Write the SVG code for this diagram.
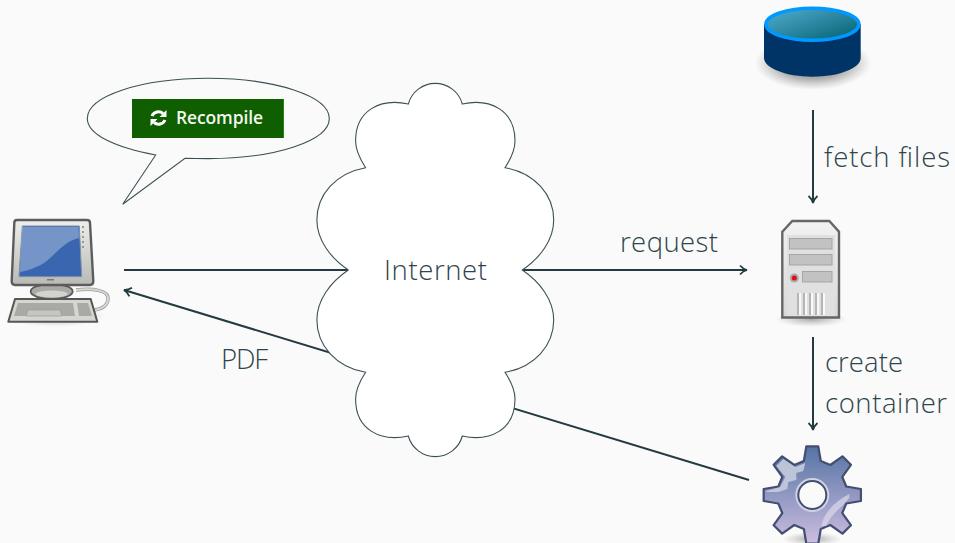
<svg xmlns="http://www.w3.org/2000/svg" width="955" height="543" viewBox="0 0 955 543">
<style>
.t{font-family:"Open Sans","Liberation Sans",sans-serif;font-weight:300;font-size:27.500px;fill:#2f444b}
.c{fill:none;stroke:#233b40;stroke-width:2}
.o{fill:#fff;stroke:#3d5055;stroke-width:1.100}
</style>
<defs>
<marker id="a" markerUnits="userSpaceOnUse" markerWidth="14" markerHeight="14" refX="10" refY="7" orient="auto"><path d="M3,2.500Q6,6 10,7Q6,8 3,11.500" fill="none" stroke="#233b40" stroke-width="1.800"/></marker>
<radialGradient id="sh"><stop offset="0" stop-color="#333" stop-opacity=".75"/><stop offset=".6" stop-color="#555" stop-opacity=".45"/><stop offset="1" stop-color="#777" stop-opacity="0"/></radialGradient>
<radialGradient id="sl"><stop offset="0" stop-color="#555" stop-opacity=".5"/><stop offset="1" stop-color="#888" stop-opacity="0"/></radialGradient>
<linearGradient id="db" x1="0" y1="0" x2="1" y2="1"><stop offset="0" stop-color="#55aed2"/><stop offset="1" stop-color="#006070"/></linearGradient>
<linearGradient id="gr" x1="0" y1="0" x2="0" y2="1"><stop offset="0" stop-color="#5573a4"/><stop offset="1" stop-color="#cdbde0"/></linearGradient>
<linearGradient id="sv" x1="0" y1="0" x2="0" y2="1"><stop offset="0" stop-color="#f2f2f2"/><stop offset="1" stop-color="#d8d8d8"/></linearGradient>
<linearGradient id="mn" x1="0" y1="0" x2="0" y2="1"><stop offset="0" stop-color="#eeeeea"/><stop offset="1" stop-color="#b9bab4"/></linearGradient>
</defs>
<rect width="955" height="543" fill="#fafafa"/>
<g id="connectors">
<path class="c" d="M124,270H348"/>
<path class="c" d="M522,270H747" marker-end="url(#a)"/>
<path class="c" d="M749,480L124,290" marker-end="url(#a)"/>
<path class="c" d="M813,110V203" marker-end="url(#a)"/>
<path class="c" d="M813,337V430" marker-end="url(#a)"/>
</g>
<g id="speech">
<path class="o" style="fill:none" d="M155.700,155C113,147 87.300,134 87.300,118.500C87.300,96 141,78.300 208.300,78.300C275,78.300 329.300,96 329.300,118.500C329.300,141 275,158.600 208.300,158.600C200,158.600 192,158.500 185,158.300L122.700,204.300Z"/>
</g>
<g id="recompile">
<rect x="132" y="99" width="152" height="39" fill="#0f5f00"/>
<rect x="283" y="99" width="1" height="39" fill="#1f8a0a"/>
<path d="M152,116A7,7 0 0 1 163,113.500M165,120A7,7 0 0 1 154,122.500" fill="none" stroke="#fff" stroke-width="3"/>
<path d="M166.500,110V117H159.500ZM150.500,126V119H157.500Z" fill="#fff"/>
<text x="176" y="124" textLength="87" style="font-family:'Open Sans','Liberation Sans',sans-serif;font-weight:600;font-size:17.500px;fill:#f2f7ee">Recompile</text>
</g>
<g id="cloud">
<path class="o" d="M408.300,104A28,28 0 0 1 462.300,104C490,98 515,110 515,141C515,150 510,160 505,167.700C535,173 553.700,195 553.700,220C553.700,240 540,258 522.300,270C540,282 553.700,300 553.700,320C553.700,345 535,367 505,372.300C510,380 515,390 515,399C515,430 490,442 462.300,436A28,28 0 0 1 408.300,436C380.600,442 355.600,430 355.600,399C355.600,390 360.600,380 365.600,372.300C335.600,367 316.900,345 316.900,320C316.900,300 330.600,282 348.300,270C330.600,258 316.900,240 316.900,220C316.900,195 335.600,173 365.600,167.700C360.600,160 355.600,150 355.600,141C355.600,110 380.600,98 408.300,104Z"/>
<text class="t" x="384" y="280" textLength="103">Internet</text>
</g>
<g id="computer">
<ellipse cx="55" cy="316" rx="50" ry="11" fill="url(#sl)"/>
<path d="M76,290C95,288 108,291 108,298C108,306 102,309 94,310" fill="none" stroke="#999" stroke-width="3.500"/>
<path d="M76,290C95,288 108,291 108,298C108,306 102,309 94,310" fill="none" stroke="#d8d8d4" stroke-width="2"/>
<ellipse cx="51.700" cy="291.500" rx="21" ry="7.500" fill="#a9aaa4" stroke="#5a5a5a" stroke-width="1.800"/>
<ellipse cx="51.700" cy="294" rx="16" ry="3.500" fill="#d2d3cd"/>
<path d="M17,220H87Q90,220 90,223L93.300,281Q93.300,285 90,285H15Q11.700,285 11.700,281L14.300,223Q14.300,220 17,220Z" fill="url(#mn)" stroke="#5c5c5c" stroke-width="2.400"/>
<path d="M22.300,226H79.300L81.700,276.700H19Z" fill="#3a66b0" stroke="#7f8fa8"/>
<path d="M22.300,227H78.500L79,238C60,242 52,262 36,267C30,270 25,271 20,272Z" fill="#fff" opacity=".3"/>
<rect x="47" y="279" width="7" height="1.500" fill="#777"/>
<path d="M83,226v2M83,231v2M83,236v2M83,241v2M83,246v2" stroke="#999" stroke-width="2"/>
<path d="M15,299H90.700L97.300,321.700H8.300Z" fill="#d5d6d0" stroke="#555" stroke-width="2" stroke-linejoin="round"/>
<path d="M18,303H73L75,316H14ZM77,303H88L92,316H79Z" fill="#a9aaa5"/>
<path d="M28,310H60L62,316H26Z" fill="#c5c6c0" stroke="#999" stroke-width=".7"/>
</g>
<g id="database">
<ellipse cx="813" cy="63" rx="58" ry="27" fill="url(#sh)"/>
<path d="M764,24.300V58C764,68 786,76.700 812.400,76.700C839,76.700 860.700,68 860.700,58V24.300Z" fill="#003366"/>
<ellipse cx="812.400" cy="24.300" rx="46.500" ry="16" fill="url(#db)" stroke="#0099ff" stroke-width="3.500"/>
</g>
<g id="server">
<ellipse cx="811" cy="319" rx="36" ry="8" fill="url(#sl)"/>
<path d="M782.300,231.700L792.300,221H829.300L839,231.700V317.500H782.300Z" fill="url(#sv)" stroke="#666" stroke-width="2.400"/>
<path d="M787,235H835V316H787Z" fill="#e0e0e0"/>
<rect x="789.500" y="238.500" width="42.500" height="10.500" fill="#c2c2c2" stroke="#a5a5a5"/>
<rect x="789.500" y="254.500" width="42.500" height="10.500" fill="#c2c2c2" stroke="#a5a5a5"/>
<rect x="802.500" y="271.500" width="29.500" height="10.500" fill="#c2c2c2" stroke="#a5a5a5"/>
<circle cx="794.300" cy="278" r="4.500" fill="#aaa"/>
<circle cx="794.300" cy="278" r="2.500" fill="#e01010"/>
<path d="M798,293V315M804,293V315M810,293V315M816,293V315M822,293V315" stroke="#b5b5b5" stroke-width="2"/>
<path d="M800,293V315M806,293V315M812,293V315M818,293V315M824,293V315" stroke="#fff" stroke-width="1.500"/>
</g>
<g id="gear" transform="translate(812.300,495)">
<ellipse cx="0" cy="44" rx="30" ry="7" fill="url(#sl)"/>
<path fill="url(#gr)" stroke="#434e70" stroke-width="2.200" stroke-linejoin="round" d="M-5.970,-48.630L5.970,-48.630L8.470,-33.960L18.030,-30L30.170,-38.610L38.610,-30.170L30,-18.030L33.960,-8.470L48.630,-5.970L48.630,5.970L33.960,8.470L30,18.030L38.610,30.170L30.170,38.610L18.030,30L8.470,33.960L5.970,48.630L-5.970,48.630L-8.470,33.960L-18.030,30L-30.170,38.610L-38.610,30.170L-30,18.030L-33.960,8.470L-48.630,5.970L-48.630,-5.970L-33.960,-8.470L-30,-18.030L-38.610,-30.170L-30.170,-38.610L-18.030,-30L-8.470,-33.960Z"/>
<path d="M-29,-36L-17,-28L-7,-32L-9,-24L-16,-22L-16,-15L-24,-13L-25,-6L-34,-3L-46,-3L-46,-4L-32,-8L-27,-18L-36,-29Z" fill="#c4cbdc" opacity=".9"/>
<path d="M37,3C28,14 18,20 14,31L9,31C12,16 24,6 37,-1Z" fill="#dcd8ea" opacity=".7"/>
<circle r="17" fill="#cfd3e2"/>
<circle r="14" fill="#fafafa" stroke="#434e70" stroke-width="2"/>
</g>
<text class="t" x="221" y="369" textLength="47">PDF</text>
<text class="t" x="620" y="252" textLength="98">request</text>
<text class="t" x="824" y="167" textLength="126">fetch files</text>
<text class="t" x="825" y="372" textLength="78">create</text>
<text class="t" x="825" y="413" textLength="122">container</text>
</svg>
